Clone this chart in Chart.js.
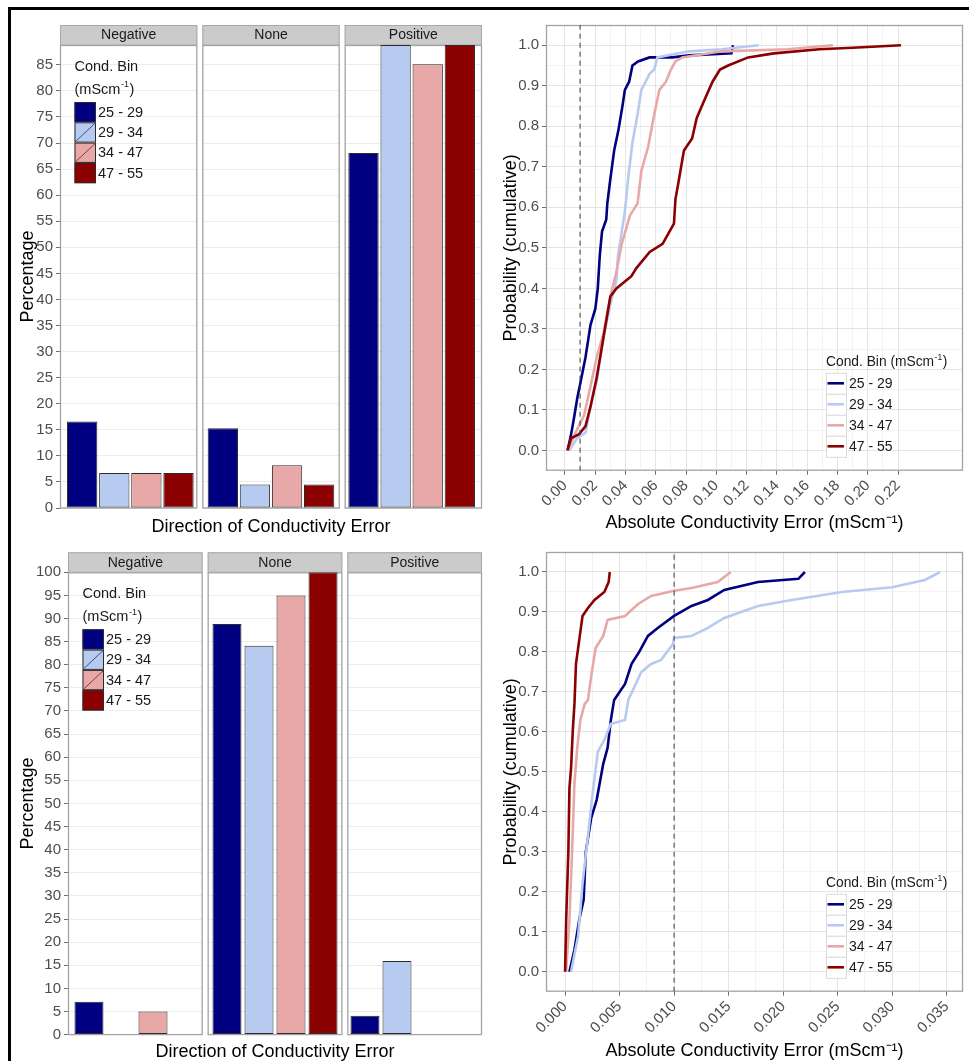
<!DOCTYPE html>
<html>
<head>
<meta charset="utf-8">
<title>Conductivity error by conductivity bin</title>
<script src="https://cdn.jsdelivr.net/npm/chart.js@4.4.1/dist/chart.umd.min.js"></script>
<style>
  html, body { margin:0; padding:0; background:#fff; }
  body { width:969px; height:1061px; position:relative; overflow:hidden; }
  #frame { position:absolute; left:8px; top:7px; width:961px; height:1054px; border-top:3px solid #000; border-left:3px solid #000; box-sizing:border-box; }
  canvas { position:absolute; }
</style>
</head>
<body>
<div id="frame"></div>
<canvas id="cA" width="480" height="528" style="left:10px;top:10px"></canvas>
<canvas id="cB" width="480" height="523" style="left:10px;top:540px"></canvas>
<canvas id="cC" width="479" height="528" style="left:490px;top:10px"></canvas>
<canvas id="cD" width="479" height="523" style="left:490px;top:540px"></canvas>
<script>
// ---------------- DATA ----------------
const facets = ['Negative', 'None', 'Positive'];
const bins = ['25 - 29', '29 - 34', '34 - 47', '47 - 55'];
const binColors = ['#000080', '#B7CBF1', '#E8A8A8', '#8B0000'];

// top-left bar panel: percentage per facet [Negative, None, Positive]
const top_25_29 = [16.6, 15.3, 68.1];
const top_29_34 = [6.7, 4.5, 88.8];
const top_34_47 = [6.7, 8.2, 85.1];
const top_47_55 = [6.7, 4.5, 88.8];
const topBarYMax = 88.8;
const topBarYTicks = [0, 5, 10, 15, 20, 25, 30, 35, 40, 45, 50, 55, 60, 65, 70, 75, 80, 85];

// bottom-left bar panel
const bot_25_29 = [7.1, 88.8, 4.1];
const bot_29_34 = [0, 84.1, 15.9];
const bot_34_47 = [5.0, 95.0, 0];
const bot_47_55 = [0, 100, 0];
const botBarYMax = 100;
const botBarYTicks = [0, 5, 10, 15, 20, 25, 30, 35, 40, 45, 50, 55, 60, 65, 70, 75, 80, 85, 90, 95, 100];

// top-right cumulative curves
const topCdfX_25_29 = [0.0017,0.0039,0.006,0.0082,0.0104,0.0136,0.0169,0.0201,0.0217,0.023,0.0245,0.0273,0.028,0.030,0.0325,0.0353,0.038,0.0396,0.0424,0.0446,0.0483,0.0559,0.071,0.082,0.110,0.111];
const topCdfY_25_29 = [0,0.036,0.08,0.13,0.17,0.23,0.31,0.35,0.40,0.48,0.54,0.57,0.61,0.67,0.74,0.79,0.85,0.89,0.91,0.95,0.96,0.97,0.97,0.975,0.98,1.0];
const topCdfX_29_34 = [0.0028,0.008,0.0136,0.017,0.021,0.0255,0.030,0.034,0.035,0.0375,0.0396,0.042,0.0446,0.048,0.0505,0.056,0.059,0.061,0.082,0.1035,0.128];
const topCdfY_29_34 = [0,0.03,0.044,0.11,0.17,0.28,0.36,0.42,0.48,0.54,0.59,0.68,0.76,0.83,0.89,0.93,0.94,0.97,0.985,0.99,1.0];
const topCdfX_34_47 = [0.0017,0.007,0.0126,0.017,0.021,0.0255,0.030,0.034,0.0375,0.043,0.048,0.0505,0.055,0.059,0.0624,0.0667,0.070,0.073,0.0775,0.1035,0.147,0.177];
const topCdfY_34_47 = [0,0.044,0.086,0.16,0.23,0.29,0.38,0.44,0.51,0.58,0.61,0.69,0.75,0.83,0.89,0.91,0.94,0.96,0.97,0.985,0.99,1.0];
const topCdfX_47_55 = [0.0017,0.004,0.0093,0.0136,0.017,0.021,0.0255,0.030,0.034,0.0439,0.0472,0.056,0.0645,0.072,0.073,0.0749,0.0786,0.084,0.087,0.0927,0.0975,0.1024,0.1078,0.121,0.138,0.168,0.19,0.222];
const topCdfY_47_55 = [0,0.03,0.04,0.06,0.11,0.18,0.28,0.38,0.40,0.43,0.45,0.49,0.51,0.56,0.62,0.66,0.74,0.77,0.82,0.87,0.91,0.94,0.95,0.97,0.98,0.99,0.994,1.0];

// bottom-right cumulative curves
const botCdfX_25_29 = [0.0004,0.00086,0.0013,0.0017,0.0019,0.0024,0.0029,0.0035,0.0039,0.0042,0.0045,0.0055,0.0061,0.0068,0.0076,0.0085,0.010,0.0116,0.0131,0.0146,0.0177,0.0214,0.022];
const botCdfY_25_29 = [0,0.055,0.13,0.18,0.30,0.385,0.43,0.52,0.56,0.63,0.68,0.72,0.77,0.80,0.84,0.86,0.89,0.915,0.93,0.955,0.975,0.983,1.0];
const botCdfX_29_34 = [0.00055,0.0012,0.0016,0.0021,0.0025,0.003,0.0036,0.0042,0.0055,0.0058,0.007,0.0079,0.0088,0.0099,0.010,0.0116,0.0131,0.0146,0.0177,0.0208,0.0254,0.030,0.033,0.0344];
const botCdfY_29_34 = [0,0.09,0.22,0.34,0.44,0.55,0.58,0.62,0.63,0.68,0.75,0.77,0.78,0.82,0.835,0.84,0.86,0.885,0.915,0.93,0.95,0.962,0.98,1.0];
const botCdfX_34_47 = [0.0001,0.0004,0.00064,0.00086,0.0011,0.0014,0.0018,0.0021,0.0024,0.0028,0.0035,0.0039,0.0055,0.0067,0.0079,0.010,0.0116,0.014,0.0152];
const botCdfY_34_47 = [0,0.13,0.30,0.47,0.555,0.63,0.67,0.68,0.74,0.81,0.84,0.88,0.89,0.92,0.94,0.953,0.96,0.975,1.0];
const botCdfX_47_55 = [0,0.0001,0.0003,0.0004,0.00055,0.0007,0.00086,0.001,0.0013,0.0016,0.0021,0.0027,0.0036,0.004,0.0041];
const botCdfY_47_55 = [0,0.13,0.30,0.46,0.51,0.60,0.67,0.77,0.83,0.89,0.91,0.93,0.95,0.975,1.0];

const cdfYTicks = [0,0.1,0.2,0.3,0.4,0.5,0.6,0.7,0.8,0.9,1.0];
const cdfYTickLabels = ['0.0','0.1','0.2','0.3','0.4','0.5','0.6','0.7','0.8','0.9','1.0'];
const topXTicks = [0,0.02,0.04,0.06,0.08,0.10,0.12,0.14,0.16,0.18,0.20,0.22];
const topXTickLabels = ['0.00','0.02','0.04','0.06','0.08','0.10','0.12','0.14','0.16','0.18','0.20','0.22'];
const botXTicks = [0,0.005,0.010,0.015,0.020,0.025,0.030,0.035];
const botXTickLabels = ['0.000','0.005','0.010','0.015','0.020','0.025','0.030','0.035'];
const threshold = 0.01;

// ---------------- STYLE / HELPERS ----------------
const FONT = '"Liberation Sans", Arial, Helvetica, sans-serif';
Chart.defaults.font.family = FONT;
Chart.defaults.animation = false;

function isIn(vals, v) { return vals.some(a => Math.abs(a - v) < 1e-9); }
function labelFor(vals, labels) {
  return function(value) {
    for (let i = 0; i < vals.length; i++) if (Math.abs(vals[i] - value) < 1e-9) return labels[i];
    return '';
  };
}
function withMinors(vals) {
  const out = [];
  for (let i = 0; i < vals.length; i++) {
    out.push(vals[i]);
    if (i < vals.length - 1) out.push((vals[i] + vals[i + 1]) / 2);
  }
  return out;
}
function drawUnit(ctx, prefix, x, y, size, color) {
  ctx.fillStyle = color;
  ctx.textAlign = 'left'; ctx.textBaseline = 'middle';
  ctx.font = size + 'px ' + FONT;
  const t = prefix + '(mScm';
  ctx.fillText(t, x, y);
  const w = ctx.measureText(t).width;
  ctx.font = (size * 0.62) + 'px ' + FONT;
  ctx.fillText('-1', x + w + 0.5, y - size * 0.36);
  const w2 = ctx.measureText('-1').width;
  ctx.font = size + 'px ' + FONT;
  ctx.fillText(')', x + w + w2 + 1, y);
}

// facet strips, panel borders and gaps for the bar panels
const facetPlugin = {
  id: 'facetPlugin',
  beforeDatasetsDraw(chart) {
    const { ctx, chartArea: a } = chart;
    const n = chart.data.labels.length, g = 5;
    const w = (a.right - a.left - g * (n - 1)) / n;
    ctx.save();
    ctx.fillStyle = '#fff';
    for (let i = 1; i < n; i++) {
      const gx = a.left + i * w + (i - 1) * g;
      ctx.fillRect(gx, a.top - 22, g, a.bottom - a.top + 24);
    }
    for (let i = 0; i < n; i++) {
      const x0 = a.left + i * (w + g);
      ctx.strokeStyle = '#A3A3A3'; ctx.lineWidth = 1.3;
      ctx.strokeRect(x0 + 0.5, a.top + 0.5, w - 1, a.bottom - a.top - 0.5);
      ctx.fillStyle = '#CBCBCB';
      ctx.fillRect(x0, a.top - 20, w, 20);
      ctx.strokeStyle = '#A8A8A8'; ctx.lineWidth = 1;
      ctx.strokeRect(x0 + 0.5, a.top - 19.5, w - 1, 19.5);
      ctx.fillStyle = '#1A1A1A';
      ctx.font = '14px ' + FONT; ctx.textAlign = 'center'; ctx.textBaseline = 'middle';
      ctx.fillText(chart.data.labels[i], x0 + w / 2, a.top - 9.5);
    }
    ctx.restore();
  }
};

// fill legend inside the bar panels
const barLegendPlugin = {
  id: 'barLegend',
  afterDraw(chart) {
    const { ctx, chartArea: a } = chart;
    const x = a.left + 14.5, kw = 21.5, kh = 20.3, ky = a.top + 57;
    ctx.save();
    ctx.fillStyle = '#1A1A1A';
    ctx.font = '14.5px ' + FONT; ctx.textAlign = 'left'; ctx.textBaseline = 'middle';
    ctx.fillText('Cond. Bin', x, a.top + 22);
    drawUnit(ctx, '', x, a.top + 45, 14.5, '#1A1A1A');
    chart.data.datasets.forEach((d, i) => {
      const y = ky + i * kh;
      ctx.fillStyle = d.backgroundColor;
      ctx.fillRect(x, y, kw, kh);
      ctx.strokeStyle = '#2B2B2B'; ctx.lineWidth = 1;
      ctx.strokeRect(x + 0.5, y + 0.5, kw - 1, kh - 1);
      if (i === 1 || i === 2) {
        ctx.strokeStyle = i === 1 ? '#3B4C9E' : '#8E3A3A';
        ctx.beginPath(); ctx.moveTo(x + 1, y + kh - 1); ctx.lineTo(x + kw - 1, y + 1); ctx.stroke();
      }
      ctx.fillStyle = '#1A1A1A';
      ctx.font = '14.5px ' + FONT; ctx.textAlign = 'left'; ctx.textBaseline = 'middle';
      ctx.fillText(d.label, x + kw + 2, y + kh / 2 + 0.5);
    });
    ctx.restore();
  }
};

// panel border + legend for cumulative panels
const cdfPanelPlugin = {
  id: 'cdfPanel',
  beforeDatasetsDraw(chart) {
    const { ctx, chartArea: a } = chart;
    ctx.save();
    ctx.strokeStyle = '#A3A3A3'; ctx.lineWidth = 1.3;
    ctx.strokeRect(a.left + 0.5, a.top + 0.5, a.right - a.left - 1, a.bottom - a.top - 1);
    ctx.restore();
  },
  afterDraw(chart) {
    const { ctx, chartArea: a } = chart;
    const x = a.right - 137;
    ctx.save();
    drawUnit(ctx, 'Cond. Bin ', x, a.bottom - 108.5, 13.8, '#1A1A1A');
    chart.data.datasets.slice(0, bins.length).forEach((d, i) => {
      const cy = a.bottom - 87.4 + i * 21;
      ctx.fillStyle = '#fff';
      ctx.fillRect(x, cy - 10.5, 20, 21);
      ctx.strokeStyle = '#DADADA'; ctx.lineWidth = 1;
      ctx.strokeRect(x + 0.5, cy - 10, 20, 21);
      ctx.strokeStyle = d.borderColor; ctx.lineWidth = 2.6;
      ctx.beginPath(); ctx.moveTo(x + 1.5, cy); ctx.lineTo(x + 18, cy); ctx.stroke();
      ctx.fillStyle = '#1A1A1A';
      ctx.font = '14px ' + FONT; ctx.textAlign = 'left'; ctx.textBaseline = 'middle';
      ctx.fillText(d.label, x + 23, cy + 0.5);
    });
    ctx.restore();
  }
};

// ---------------- CHART BUILDERS ----------------
function makeBarChart(id, series, yMax, yTicks, geom) {
  const datasets = bins.map((b, i) => ({
    label: b, data: series[i],
    backgroundColor: binColors[i], borderColor: '#2B2B2B', borderWidth: 1, borderSkipped: false,
    categoryPercentage: geom.catPct, barPercentage: geom.barPct
  }));
  return new Chart(document.getElementById(id), {
    type: 'bar',
    data: { labels: facets, datasets },
    options: {
      responsive: false, animation: false,
      layout: { padding: { left: 0, top: geom.padTop, right: geom.padRight, bottom: 0 } },
      plugins: { legend: { display: false }, tooltip: { enabled: false } },
      scales: {
        x: {
          type: 'category',
          grid: { display: false }, border: { display: false }, ticks: { display: false },
          title: { display: true, text: 'Direction of Conductivity Error', color: '#000', font: { size: 18 }, padding: { top: 0, bottom: geom.xTitlePad } },
          afterFit: s => { s.height = geom.xH; }
        },
        y: {
          min: 0, max: yMax,
          afterBuildTicks: s => { s.ticks = yTicks.map(v => ({ value: v })); },
          grid: { color: '#ECECEC', lineWidth: 1, tickLength: 4, tickColor: '#6E6E6E' },
          border: { display: false },
          ticks: { color: '#4D4D4D', font: { size: 15 }, padding: 3, autoSkip: false },
          title: { display: true, text: 'Percentage', color: '#000', font: { size: 18 }, padding: { top: geom.yTitlePad, bottom: 0 } },
          afterFit: s => { s.width = geom.yW; }
        }
      }
    },
    plugins: [facetPlugin, barLegendPlugin]
  });
}

function makeCdfChart(id, xs, ys, xMin, xMax, xTicks, xLabels, geom) {
  const datasets = bins.map((b, i) => ({
    label: b,
    data: xs[i].map((x, j) => ({ x: x, y: ys[i][j] })),
    borderColor: binColors[i], borderWidth: 2.6, pointRadius: 0, tension: 0, fill: false,
    order: 10 - i
  }));
  datasets.push({
    label: 'threshold',
    data: [{ x: threshold, y: -0.05 }, { x: threshold, y: 1.05 }],
    borderColor: '#3A3A3A', borderWidth: 1, borderDash: [5, 4], pointRadius: 0, order: 0
  });
  const gridCol = vals => c => (c.tick && isIn(vals, c.tick.value)) ? '#E4E4E4' : '#F3F3F3';
  const tickCol = vals => c => (c.tick && isIn(vals, c.tick.value)) ? '#6E6E6E' : 'rgba(0,0,0,0)';
  return new Chart(document.getElementById(id), {
    type: 'line',
    data: { datasets },
    options: {
      responsive: false, animation: false,
      layout: { padding: { left: 0, top: geom.padTop, right: geom.padRight, bottom: 0 } },
      plugins: { legend: { display: false }, tooltip: { enabled: false } },
      scales: {
        x: {
          type: 'linear', min: xMin, max: xMax,
          afterBuildTicks: s => { s.ticks = withMinors(xTicks).map(v => ({ value: v })); },
          ticks: { autoSkip: false, minRotation: 45, maxRotation: 45, color: '#4D4D4D', font: { size: 15 }, padding: 2, callback: labelFor(xTicks, xLabels) },
          grid: { color: gridCol(xTicks), lineWidth: 1, tickLength: 4, tickColor: tickCol(xTicks) },
          border: { display: false },
          title: { display: true, text: 'Absolute Conductivity Error (mScm\u207B\u00B9)', color: '#000', font: { size: 18 }, padding: { top: 0, bottom: geom.xTitlePad } },
          afterFit: s => { s.height = geom.xH; }
        },
        y: {
          type: 'linear', min: -0.05, max: 1.05,
          afterBuildTicks: s => { s.ticks = withMinors(cdfYTicks).map(v => ({ value: v })); },
          ticks: { autoSkip: false, color: '#4D4D4D', font: { size: 15 }, padding: 3, callback: labelFor(cdfYTicks, cdfYTickLabels) },
          grid: { color: gridCol(cdfYTicks), lineWidth: 1, tickLength: 4, tickColor: tickCol(cdfYTicks) },
          border: { display: false },
          title: { display: true, text: 'Probability (cumulative)', color: '#000', font: { size: 18 }, padding: { top: geom.yTitlePad, bottom: 0 } },
          afterFit: s => { s.width = geom.yW; }
        }
      }
    },
    plugins: [cdfPanelPlugin]
  });
}

// ---------------- BUILD ----------------
makeBarChart('cA', [top_25_29, top_29_34, top_34_47, top_47_55], topBarYMax, topBarYTicks,
  { padTop: 35, padRight: 8, yW: 50, xH: 30, xTitlePad: 0, yTitlePad: 7.2, catPct: 0.913, barPct: 0.944 });
makeBarChart('cB', [bot_25_29, bot_29_34, bot_34_47, bot_47_55], botBarYMax, botBarYTicks,
  { padTop: 32.3, padRight: 8, yW: 58, xH: 28.4, xTitlePad: 0, yTitlePad: 7.2, catPct: 0.928, barPct: 0.906 });
makeCdfChart('cC',
  [topCdfX_25_29, topCdfX_29_34, topCdfX_34_47, topCdfX_47_55],
  [topCdfY_25_29, topCdfY_29_34, topCdfY_34_47, topCdfY_47_55],
  -0.0125, 0.2629, topXTicks, topXTickLabels,
  { padTop: 15, padRight: 6, yW: 56, xH: 67.3, xTitlePad: 4.2, yTitlePad: 10.2 });
makeCdfChart('cD',
  [botCdfX_25_29, botCdfX_29_34, botCdfX_34_47, botCdfX_47_55],
  [botCdfY_25_29, botCdfY_29_34, botCdfY_34_47, botCdfY_47_55],
  -0.00175, 0.0365, botXTicks, botXTickLabels,
  { padTop: 12, padRight: 6, yW: 56, xH: 71.3, xTitlePad: 1.2, yTitlePad: 10.2 });
</script>
</body>
</html>
